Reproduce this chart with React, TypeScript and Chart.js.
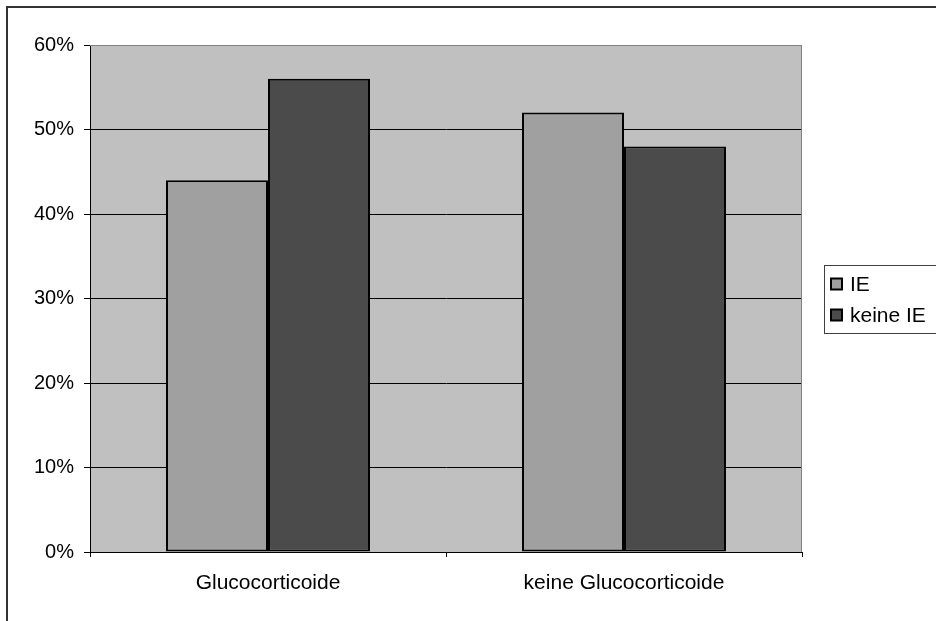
import React, { useEffect, useRef } from "react";
import { Chart, registerables } from "chart.js";

Chart.register(...registerables);

// Categories, series and axis ticks
const categories = ["Glucocorticoide", "keine Glucocorticoide"];
const seriesLabels = ["IE", "keine IE"];
const ieValues = [44, 52];
const keineIeValues = [56, 48];
const yTickMin = 0;
const yTickMax = 60;
const yTickStep = 10;

const seriesColors = ["#a0a0a0", "#4b4b4b"];
const FONT = "'Liberation Sans', Arial, sans-serif";
const Y_FONT_SIZE = 20;
const X_FONT_SIZE = 21;
const LEGEND_FONT_SIZE = 21;

const frameAndLegend = {
  id: "frameAndLegend",
  beforeDraw(chart: any) {
    const { ctx, chartArea, width, height } = chart;
    ctx.save();
    ctx.fillStyle = "#ffffff";
    ctx.fillRect(0, 0, width, height);
    // outer chart frame
    ctx.strokeStyle = "#333333";
    ctx.lineWidth = 2;
    ctx.strokeRect(7, 7, width + 20, height + 20);
    // plot area fill
    ctx.fillStyle = "#c0c0c0";
    ctx.fillRect(
      chartArea.left,
      chartArea.top,
      chartArea.right - chartArea.left,
      chartArea.bottom - chartArea.top
    );
    ctx.restore();
  },
  afterDraw(chart: any) {
    const { ctx, chartArea } = chart;
    ctx.save();
    // plot area top/right border
    ctx.strokeStyle = "#808080";
    ctx.lineWidth = 1;
    ctx.beginPath();
    ctx.moveTo(chartArea.left, chartArea.top + 0.5);
    ctx.lineTo(chartArea.right - 0.5, chartArea.top + 0.5);
    ctx.lineTo(chartArea.right - 0.5, chartArea.bottom);
    ctx.stroke();

    // legend box
    const lx = 824.5;
    const ly = 265.5;
    ctx.strokeStyle = "#404040";
    ctx.lineWidth = 1;
    ctx.strokeRect(lx, ly, 140, 68);
    ctx.font = `${LEGEND_FONT_SIZE}px ${FONT}`;
    ctx.textBaseline = "middle";
    ctx.textAlign = "left";
    chart.data.datasets.forEach((ds: any, i: number) => {
      const cy = 284.5 + i * 31;
      ctx.fillStyle = ds.backgroundColor;
      ctx.fillRect(831, cy - 6, 11, 11);
      ctx.strokeStyle = "#000000";
      ctx.lineWidth = 2;
      ctx.strokeRect(831, cy - 6, 11, 11);
      ctx.fillStyle = "#000000";
      ctx.fillText(ds.label, 850, cy + 1);
    });
    ctx.restore();
  },
};

export default function App() {
  const canvasRef = useRef<HTMLCanvasElement | null>(null);

  useEffect(() => {
    document.body.style.margin = "0";
    const canvas = canvasRef.current;
    if (!canvas) return;
    const chart = new Chart(canvas, {
      type: "bar",
      data: {
        labels: categories,
        datasets: [
          {
            label: seriesLabels[0],
            data: ieValues,
            backgroundColor: seriesColors[0],
            borderColor: "#000000",
            borderWidth: 2,
            borderSkipped: false,
            categoryPercentage: 0.573,
            barPercentage: 1,
          },
          {
            label: seriesLabels[1],
            data: keineIeValues,
            backgroundColor: seriesColors[1],
            borderColor: "#000000",
            borderWidth: 2,
            borderSkipped: false,
            categoryPercentage: 0.573,
            barPercentage: 1,
          },
        ],
      },
      options: {
        responsive: false,
        animation: false,
        devicePixelRatio: 1,
        layout: { padding: { top: 45, right: 134, left: 0, bottom: 0 } },
        plugins: {
          legend: { display: false },
          tooltip: { enabled: false },
        },
        scales: {
          x: {
            afterFit(scale: any) {
              scale.height = 69;
            },
            grid: {
              offset: true,
              drawOnChartArea: false,
              drawTicks: true,
              tickLength: 5,
              tickColor: "#000000",
            },
            border: { display: true, color: "#000000", width: 1 },
            ticks: {
              color: "#000000",
              padding: 14,
              font: { family: FONT, size: X_FONT_SIZE },
            },
          },
          y: {
            min: yTickMin,
            max: yTickMax,
            afterFit(scale: any) {
              scale.width = 90;
            },
            grid: {
              color: (c: any) => (c.tick && c.tick.value === yTickMax ? "#808080" : "#000000"),
              lineWidth: 1,
              drawTicks: true,
              tickLength: 6,
              tickColor: "#000000",
            },
            border: { display: true, color: "#000000", width: 1 },
            ticks: {
              stepSize: yTickStep,
              color: "#000000",
              padding: 10,
              font: { family: FONT, size: Y_FONT_SIZE },
              callback: (v: any) => `${v}%`,
            },
          },
        },
      },
      plugins: [frameAndLegend],
    });
    return () => chart.destroy();
  }, []);

  return (
    <div style={{ position: "absolute", left: 0, top: 0, width: 936, height: 621 }}>
      <canvas ref={canvasRef} width={936} height={621} style={{ display: "block" }} />
    </div>
  );
}
